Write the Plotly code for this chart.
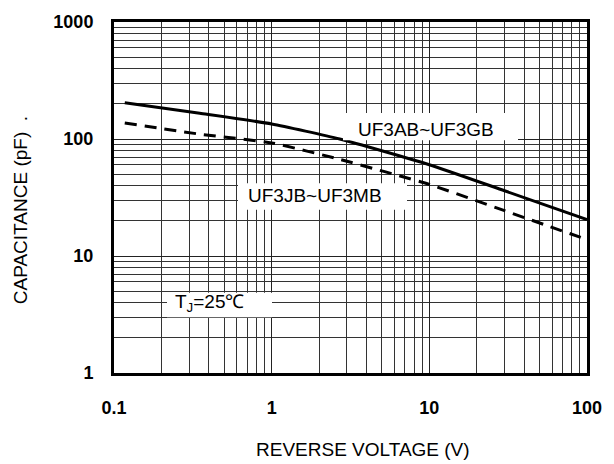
import plotly.graph_objects as go

# Data
voltage = [0.117, 0.35, 1.0, 2.7, 10.0, 30.0, 100.0]
cap_uf3ab_gb = [204, 166, 134.5, 100, 60.3, 36.1, 20.5]
cap_uf3jb_mb = [137, 110, 92.6, 67, 40.9, 24.4, 13.8]

x_tick_vals = [0.1, 1, 10, 100]
x_tick_text = ["0.1", "1", "10", "100"]
y_tick_vals = [1, 10, 100, 1000]
y_tick_text = ["1", "10", "100", "1000"]

minor_x = [m * d for d in [0.1, 1, 10] for m in range(2, 10)]
minor_y = [m * d for d in [1, 10, 100] for m in range(2, 10)]

W, H = 614, 464
L, R, T, B = 114, 27, 14, 91
pw, ph = W - L - R, H - T - B


def px(xp):
    return (xp - L) / pw


def py(yp):
    return (H - B - yp) / ph


FONT = "Liberation Sans, Arial, sans-serif"

fig = go.Figure()
fig.add_trace(go.Scatter(x=voltage, y=cap_uf3ab_gb, mode="lines",
                         line=dict(color="black", width=3, shape="spline", smoothing=0.5),
                         name="UF3AB~UF3GB", showlegend=False))
fig.add_trace(go.Scatter(x=voltage, y=cap_uf3jb_mb, mode="lines",
                         line=dict(color="black", width=3, dash="12px,8px", shape="spline", smoothing=0.5),
                         name="UF3JB~UF3MB", showlegend=False))

axis_common = dict(
    type="log", showgrid=True, gridcolor="#222", gridwidth=1,
    showline=True, linecolor="black", linewidth=3, mirror=True,
    zeroline=False, ticks="",
    tickfont=dict(family=FONT, size=18, color="black", weight="bold"),
)

fig.update_xaxes(**axis_common, range=[-1, 2], tickmode="array",
                 tickvals=x_tick_vals, ticktext=x_tick_text, ticklabelstandoff=16,
                 minor=dict(tickmode="array", tickvals=minor_x, showgrid=True,
                            gridcolor="#333", gridwidth=1))
fig.update_yaxes(**axis_common, range=[0, 3], tickmode="array",
                 tickvals=y_tick_vals, ticktext=y_tick_text, ticklabelstandoff=14,
                 minor=dict(tickmode="array", tickvals=minor_y, showgrid=True,
                            gridcolor="#333", gridwidth=1))

# white label boxes
boxes = [(343, 107, 518, 135), (238, 179, 407, 206), (167, 291, 272, 316)]
shapes = []
for x0, y0, x1, y1 in boxes:
    shapes.append(dict(type="rect", xref="paper", yref="paper",
                       x0=px(x0), x1=px(x1), y0=py(y1), y1=py(y0),
                       fillcolor="white", line=dict(width=0), layer="above"))

annotations = [
    dict(text="UF3AB~UF3GB", x=px(425.5), y=py(124)),
    dict(text="UF3JB~UF3MB", x=px(315), y=py(191.5)),
    dict(text="T<sub>J</sub>=25℃", x=px(210), y=py(301)),
    dict(text="REVERSE VOLTAGE (V)", x=px(362.5), y=py(451)),
    dict(text="CAPACITANCE (pF)  .", x=px(20), y=py(206.5), textangle=-90),
]
for a in annotations:
    a.update(xref="paper", yref="paper", showarrow=False,
             xanchor="center", yanchor="middle",
             font=dict(family=FONT, size=19, color="black"))

fig.update_layout(
    width=W, height=H, margin=dict(l=L, r=R, t=T, b=B),
    paper_bgcolor="white", plot_bgcolor="white",
    shapes=shapes, annotations=annotations, showlegend=False,
)

fig.write_html("out.html", config={"displayModeBar": False},
               post_script="document.body.style.margin='0';document.body.style.padding='0';document.body.style.overflow='hidden';")
